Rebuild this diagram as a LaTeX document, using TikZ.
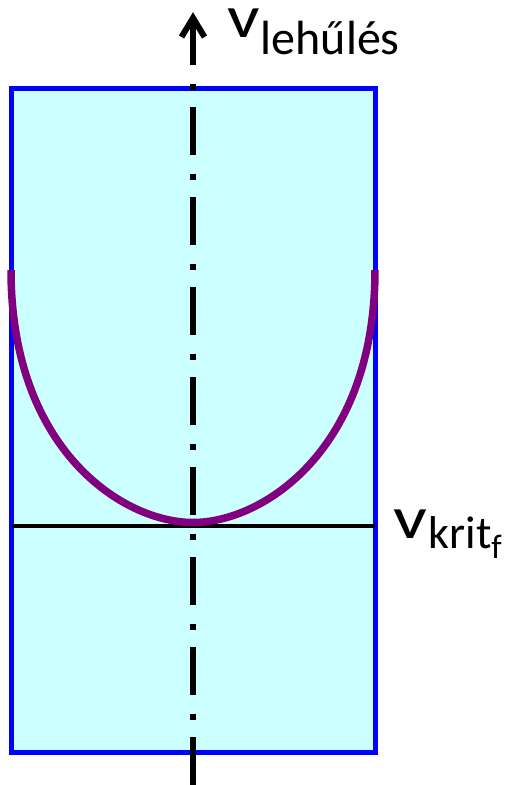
\documentclass[tikz,border=0pt]{standalone}
\usepackage{fontspec}
\setmainfont{Carlito}
\definecolor{boxfill}{HTML}{CCFFFF}
\definecolor{boxblue}{HTML}{0000FF}
\definecolor{curvepurple}{HTML}{800080}
\begin{document}
\begin{tikzpicture}[x=1pt,y=-1pt,
  boxstyle/.style={draw=boxblue,fill=boxfill,line width=5pt},
  axisstyle/.style={line width=6pt,dash pattern=on 48pt off 18.5pt on 6pt off 17.5pt},
  headstyle/.style={line width=6pt,line join=miter},
  critline/.style={line width=4.5pt},
  curvestyle/.style={draw=curvepurple,line width=7.5pt},
  lab/.style={inner sep=0pt,anchor=base west}]
\useasboundingbox (0,0) rectangle (514,785);
% box
\draw[boxstyle] (11.5,88) rectangle (375,752.5);
% critical line
\coordinate (cl) at (11.5,526);
\coordinate (cr) at (375,526);
\draw[critline] (cl) -- (cr);
% curve
\coordinate (ctl) at (11,270);
\coordinate (cbot) at (193,522.5);
\coordinate (ctr) at (375,270);
\draw[curvestyle] (ctl) .. controls (11,450) and (123,522.5) .. (cbot)
                        .. controls (263,522.5) and (375,450) .. (ctr);
% axis
\coordinate (atop) at (193,17);
\coordinate (abot) at (193,785);
\draw[axisstyle] (atop) -- (abot);
\coordinate (tip) at (193,18);
\draw[headstyle] (181.5,37) -- (tip) -- (204.5,37);
% labels
\node[lab] (vleh) at (227,37) {\fontsize{60}{64}\selectfont\scalebox{1.2}[1]{v}\kern1pt\raisebox{-17pt}{\fontsize{48}{52}\selectfont lehűlés}};
\node[lab] (vkrit) at (393,538) {\fontsize{60}{64}\selectfont\scalebox{1.25}[1]{v}\kern1.5pt\raisebox{-10pt}{\fontsize{46}{50}\selectfont krit\raisebox{-10pt}{\fontsize{34}{38}\selectfont f}}};
\end{tikzpicture}
\end{document}
